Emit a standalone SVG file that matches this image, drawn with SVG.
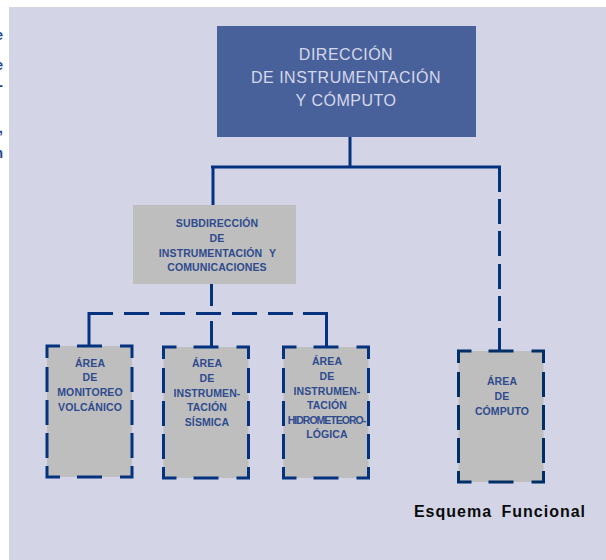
<svg xmlns="http://www.w3.org/2000/svg" width="606" height="560" viewBox="0 0 606 560">
<style>
text{font-family:"Liberation Sans",Arial,sans-serif;text-anchor:middle}
.t{font-size:10.500px;font-weight:700;fill:#2f4b8e;letter-spacing:.1px}
.c{fill:none;stroke:#04327f;stroke-width:3}
.b{fill:none;stroke:#04327f;stroke-width:3}
.s{fill:#bebebe;stroke:none}
.e{font-size:14px;font-weight:700;fill:#1d4a96;text-anchor:end}
</style>
<defs>
<g id="frame">
<rect class="s" x="0" y="0" width="85" height="131"/>
<path d="M0 12V0H13M30 0H55M73 0H85V12M85 21V46M85 54V79M85 87V112M85 120V131H73M55 131H30M13 131H0V120M0 112V87M0 79V54M0 46V21"/>
</g>
</defs>
<rect width="606" height="560" fill="#fff"/>
<rect x="9" y="7" width="597" height="553" fill="#d3d5e7"/>
<g id="clipped-text">
<text class="e" x="3" y="40">e</text>
<text class="e" x="3" y="70">e</text>
<text class="e" x="3" y="90">-</text>
<text class="e" x="3" y="133">,</text>
<text class="e" x="3" y="158">n</text>
</g>
<g id="connectors">
<path class="c" d="M350 134V167M211 167H499.500V192M213 167V205M499.500 199V224M499.500 231V256M499.500 264V289M499.500 296V321M499.500 328V353"/>
<path class="c" d="M211.500 282V306M211.500 321V346M89 346V313.500H113M124 313.500H149M160 313.500H185M196 313.500H221M232 313.500H257M268 313.500H293M303 313.500H326.500V346"/>
</g>
<g id="node-direccion">
<rect x="217" y="26" width="259" height="111" fill="#49619b"/>
<g font-size="16" fill="#d5d8ea" style="letter-spacing:.5px">
<text x="346" y="59.500">DIRECCIÓN</text>
<text x="346" y="82.500">DE INSTRUMENTACIÓN</text>
<text x="346" y="105.500">Y CÓMPUTO</text>
</g>
</g>
<g id="node-subdireccion">
<rect class="s" x="133" y="205" width="163" height="79"/>
<text class="t" x="217" y="227">SUBDIRECCIÓN</text>
<text class="t" x="217" y="242">DE</text>
<text class="t" x="217.500" y="257" style="word-spacing:4px">INSTRUMENTACIÓN Y</text>
<text class="t" x="217" y="271">COMUNICACIONES</text>
</g>
<g id="node-monitoreo">
<use href="#frame" x="47" y="346" class="b"/>
<text class="t" x="90" y="367">ÁREA</text>
<text class="t" x="90" y="381">DE</text>
<text class="t" x="90" y="396">MONITOREO</text>
<text class="t" x="90" y="411">VOLCÁNICO</text>
</g>
<g id="node-sismica">
<use href="#frame" x="163.500" y="347" class="b"/>
<text class="t" x="207" y="367">ÁREA</text>
<text class="t" x="207" y="382">DE</text>
<text class="t" x="207" y="397">INSTRUMEN-</text>
<text class="t" x="207" y="411">TACIÓN</text>
<text class="t" x="207" y="426">SÍSMICA</text>
</g>
<g id="node-hidro">
<use href="#frame" x="283.500" y="347" class="b"/>
<text class="t" x="327" y="365">ÁREA</text>
<text class="t" x="327" y="380">DE</text>
<text class="t" x="327" y="394.500">INSTRUMEN-</text>
<text class="t" x="327" y="409">TACIÓN</text>
<text class="t" x="326.500" y="424" style="letter-spacing:-1px">HIDROMETEORO-</text>
<text class="t" x="327" y="438">LÓGICA</text>
</g>
<g id="node-computo">
<use href="#frame" x="458.500" y="351" style="stroke:#002f66;stroke-width:3;fill:none"/>
<text class="t" x="502" y="385">ÁREA</text>
<text class="t" x="502" y="400">DE</text>
<text class="t" x="502" y="415">CÓMPUTO</text>
</g>
<text x="500" y="517" font-size="16" font-weight="700" fill="#0a0a0a" style="letter-spacing:1px;word-spacing:4px">Esquema Funcional</text>
</svg>
